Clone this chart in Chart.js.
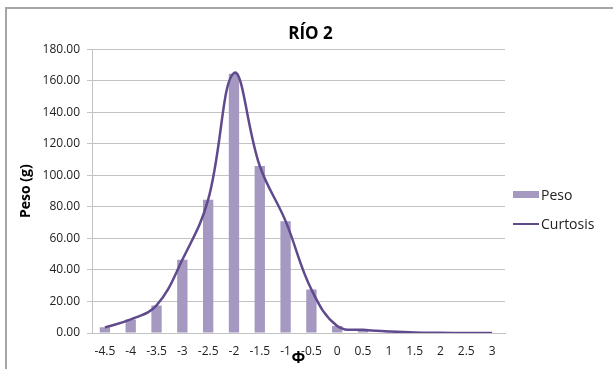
<!DOCTYPE html>
<html>
<head>
<meta charset="utf-8">
<script src="https://cdn.jsdelivr.net/npm/chart.js@4.4.0/dist/chart.umd.min.js"></script>
<style>
  html, body { margin: 0; padding: 0; background: #fff; }
  #wrap { position: relative; width: 613px; height: 369px; overflow: hidden; }
  #frame {
    position: absolute; left: 5px; top: 7px; width: 700px; height: 400px;
    border: 2px solid #a6a6a6; pointer-events: none;
  }
  #legend { position: absolute; left: 513px; top: 180px; font-family: "Open Sans", sans-serif; font-size: 14px; color: #222; }
  .item { display: flex; align-items: center; height: 29px; }
  .swatch { width: 26px; margin-right: 2px; }
</style>
</head>
<body>
<div id="wrap">
  <canvas id="chart" width="613" height="369"></canvas>
  <div id="frame"></div>
  <div id="legend"></div>
</div>
<script>
// Data
const phiLabels = ["-4.5", "-4", "-3.5", "-3", "-2.5", "-2", "-1.5", "-1", "-0.5", "0", "0.5", "1", "1.5", "2", "2.5", "3"];
const pesoValues = [3.6, 8.6, 17.5, 46.5, 84.6, 164.5, 106, 71, 27.6, 4.4, 1.5, 0.4, 0.1, 0, 0, 0];
const curtosisValues = [3.6, 8.6, 17.5, 46.5, 84.6, 165, 106, 71, 27.6, 4.4, 2, 1, 0.3, 0.1, 0, 0];
const yTicks = [0, 20, 40, 60, 80, 100, 120, 140, 160, 180];

const barColor = "#a598c1";
const lineColor = "#5f4a8e";
const gridColor = "#c3c3c3";

const chart = new Chart(document.getElementById("chart"), {
  type: "bar",
  data: {
    labels: phiLabels,
    datasets: [
      {
        type: "bar",
        label: "Peso",
        data: pesoValues,
        backgroundColor: barColor,
        categoryPercentage: 1,
        barPercentage: 0.4,
        order: 2,
      },
      {
        type: "line",
        label: "Curtosis",
        data: curtosisValues,
        borderColor: lineColor,
        borderWidth: 2.5,
        pointRadius: 0,
        tension: 0.4,
        fill: false,
        order: 1,
      },
    ],
  },
  options: {
    responsive: false,
    animation: false,
    layout: { padding: { left: 8, right: 0, top: 12, bottom: 0 } },
    plugins: {
      legend: { display: false },
      tooltip: { enabled: false },
      title: {
        display: true,
        text: "RÍO 2",
        color: "#000",
        font: { family: "Open Sans", size: 17, weight: "bold" },
        padding: { top: 12, bottom: 5 },
      },
    },
    scales: {
      x: {
        grid: { display: false, drawTicks: false },
        border: { display: true, color: gridColor },
        ticks: {
          color: "#222",
          font: { family: "Open Sans", size: 12 },
          padding: 11,
          maxRotation: 0,
          autoSkip: false,
        },
        title: {
          display: true,
          text: "Φ",
          color: "#000",
          font: { family: "Open Sans", size: 16, weight: "bold" },
          padding: { top: 0, bottom: 1 },
        },
        afterFit: (scale) => {
          scale.height = 36;
        },
      },
      y: {
        min: 0,
        max: 180,
        afterBuildTicks: (scale) => {
          scale.ticks = yTicks.map((v) => ({ value: v }));
        },
        grid: { color: gridColor, tickLength: 5, lineWidth: 1 },
        border: { display: true, color: gridColor },
        ticks: {
          color: "#222",
          font: { family: "Open Sans", size: 12 },
          padding: 7,
          callback: (v) => Number(v).toFixed(2),
        },
        title: {
          display: true,
          text: "Peso (g)",
          color: "#000",
          font: { family: "Open Sans", size: 14, weight: "bold" },
          padding: { top: 10, bottom: 0 },
        },
        afterFit: (scale) => {
          scale.width = 84;
        },
      },
      // empty right-hand axis that only reserves room for the legend
      legendSpace: {
        position: "right",
        display: true,
        grid: { display: false, drawTicks: false },
        border: { display: false },
        ticks: { display: false },
        afterFit: (scale) => {
          scale.width = 108;
        },
      },
    },
  },
});

// HTML legend built from datasets
const legendEl = document.getElementById("legend");
chart.data.datasets.forEach((ds) => {
  const item = document.createElement("div");
  item.className = "item";
  const sw = document.createElement("span");
  sw.className = "swatch";
  if (ds.type === "bar") {
    sw.style.height = "7px";
    sw.style.background = ds.backgroundColor;
  } else {
    sw.style.height = "2px";
    sw.style.background = ds.borderColor;
  }
  const txt = document.createElement("span");
  txt.textContent = ds.label;
  item.appendChild(sw);
  item.appendChild(txt);
  legendEl.appendChild(item);
});
</script>
</body>
</html>
